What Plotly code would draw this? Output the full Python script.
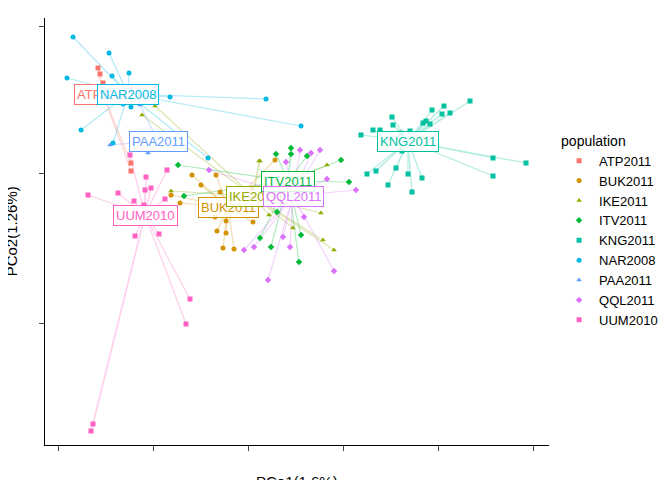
import plotly.graph_objects as go

groups = ["ATP2011","BUK2011","IKE2011","ITV2011","KNG2011","NAR2008","PAA2011","QQL2011","UUM2010"]
colors = ["#F8766D","#D39200","#93AA00","#00BA38","#00C19F","#00B9E3","#619CFF","#DB72FB","#FF61C3"]
symbols = ["square","circle","triangle-up","diamond","square","circle","triangle-up","diamond","square"]

# centroids (label positions), same arbitrary units as points
cx = [95,220,245,280,400,120,150,285,137]
cy = [86,199,188,173,133,86,133,188,207]

pts_x = {
 "ATP2011":[90,92,123,123,95],
 "BUK2011":[184,208,193,212,163,172,207,218,245,209,218,215,226,267,244],
 "IKE2011":[147,134,251,163,252,319,261,285,313,315,326],
 "ITV2011":[268,283,299,170,333,341,176,269,252,263,291,293,283],
 "KNG2011":[462,436,424,434,442,384,415,418,422,385,365,372,353,402,393,394,485,518,485,359,368,388,400,414,380,404],
 "NAR2008":[65,101,59,104,121,162,258,115,123,73,105,200,293],
 "PAA2011":[132,102,140],
 "QQL2011":[292,303,312,278,201,319,348,296,275,282,246,236,326,260],
 "UUM2010":[138,159,80,110,137,143,126,157,136,127,151,182,178,85,83,122,155],
}
pts_y = {
 "ATP2011":[60,66,155,163,75],
 "BUK2011":[167,167,177,184,187,195,209,213,214,223,225,240,241,152,180],
 "IKE2011":[98,107,153,183,153,157,207,220,205,232,242],
 "ITV2011":[146,146,148,157,152,174,188,204,230,239,254,227,140],
 "KNG2011":[93,98,102,106,105,109,115,113,116,117,122,122,127,123,125,143,150,155,168,166,163,160,166,170,177,184],
 "NAR2008":[29,45,70,68,65,89,91,96,99,122,135,150,118],
 "PAA2011":[97,137,145],
 "QQL2011":[142,145,142,154,162,171,182,209,229,239,239,242,263,272],
 "UUM2010":[169,162,187,185,182,180,193,191,197,228,226,291,316,416,423,147,205],
}

fig = go.Figure()
for i, g in enumerate(groups):
    xs, ys = [], []
    for x, y in zip(pts_x[g], pts_y[g]):
        xs += [cx[i], x, None]; ys += [cy[i], y, None]
    fig.add_trace(go.Scatter(x=xs, y=ys, mode="lines", line=dict(color=colors[i], width=1.2),
                             opacity=0.3, showlegend=False, hoverinfo="skip"))
for i, g in enumerate(groups):
    fig.add_trace(go.Scatter(x=pts_x[g], y=pts_y[g], mode="markers", name=g,
                             marker=dict(color=colors[i], symbol=symbols[i], size=5)))
for i, g in enumerate(groups):
    fig.add_annotation(x=cx[i], y=cy[i], text=g, showarrow=False,
                       font=dict(color=colors[i], size=13, family="Liberation Sans"),
                       bgcolor="rgba(255,255,255,0.85)", bordercolor=colors[i], borderwidth=1, borderpad=2)

fig.add_annotation(x=0.5, y=-0.06, xref="paper", yref="paper", yanchor="top", showarrow=False,
                   text="PCo1(1.6%)", font=dict(size=15))
fig.add_annotation(x=-0.045, y=0.5, xref="paper", yref="paper", xanchor="right", showarrow=False,
                   text="PCo2(1.26%)", textangle=-90, font=dict(size=15))

fig.update_layout(
    width=672, height=480, plot_bgcolor="white", paper_bgcolor="white",
    margin=dict(l=37, r=131, t=10, b=43, autoexpand=False),
    font=dict(family="Liberation Sans", size=13, color="black"),
    legend=dict(title=dict(text="population", font=dict(size=14)), x=1.02, y=0.5, yanchor="middle",
                font=dict(size=13), itemsizing="trace"),
    xaxis=dict(range=[37,541], showgrid=False, zeroline=False, showline=True, linecolor="black",
               ticks="outside", tickvals=[50,145,240,335,430,525], ticktext=[""]*6, automargin=False),
    yaxis=dict(range=[437,10], showgrid=False, zeroline=False, showline=True, linecolor="black",
               ticks="outside", tickvals=[18,165,315], ticktext=[""]*3, automargin=False),
)
fig.write_html("out.html")
